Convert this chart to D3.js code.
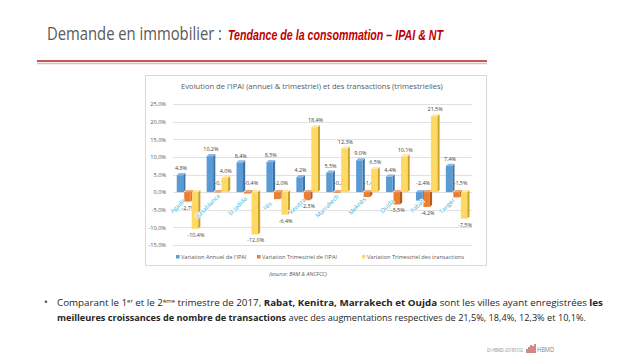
<!DOCTYPE html>
<html><head><meta charset="utf-8">
<script src="https://cdn.jsdelivr.net/npm/d3@7"></script>
<style>
html,body{margin:0;padding:0;background:#fff;}
svg{display:block;}
</style></head>
<body>
<svg id="c" width="638" height="359"></svg>
<script>
const categories = ["Agadir","Casablanca","El Jadida","Fès","Kénitra","Marrakech","Meknès","Oujda","Rabat","Tanger"];
const annualIPAI = [4.8,10.2,8.4,8.5,4.2,5.5,9.0,4.4,-2.4,7.4];
const quarterlyIPAI = [-2.7,-0.1,-0.4,-2.0,-2.3,-0.2,-1.4,-3.5,-4.2,-1.5];
const quarterlyTx = [-10.4,4.0,-12.0,-6.4,18.4,12.3,6.5,10.1,21.5,-7.5];
const seriesNames = ["Variation Annuel de l'IPAI","Variation Trimestriel de l'IPAI","Variation Trimestriel des transactions"];
const yTicks = [-15,-10,-5,0,5,10,15,20,25];

const svg = d3.select("#c");
const fmt = v => d3.format(".1f")(v).replace(".", ",").replace("−","-") + "%";

// Slide title
svg.append("text").attr("x",47).attr("y",40).attr("font-family","Open Sans, sans-serif")
  .attr("font-size",17.5).attr("fill","#595959").attr("textLength",175).attr("lengthAdjust","spacingAndGlyphs")
  .text("Demande en immobilier :");
svg.append("text").attr("x",228).attr("y",40)
  .attr("font-family","Liberation Sans Narrow, Liberation Sans, sans-serif")
  .attr("font-weight","bold").attr("font-style","italic").attr("font-size",15)
  .attr("fill","#C00000").attr("textLength",215).attr("lengthAdjust","spacingAndGlyphs")
  .text("Tendance de la consommation – IPAI & NT");
svg.append("line").attr("x1",37).attr("x2",487).attr("y1",61).attr("y2",61).attr("stroke","#B22222").attr("stroke-width",1.6);
svg.append("line").attr("x1",37).attr("x2",487).attr("y1",63.5).attr("y2",63.5).attr("stroke","#E6B8B8").attr("stroke-width",1.6);

// Chart frame
svg.append("rect").attr("x",145.5).attr("y",75.5).attr("width",341).attr("height",190).attr("fill","#fff").attr("stroke","#D9D9D9");
svg.append("text").attr("x",312).attr("y",89).attr("text-anchor","middle")
  .attr("font-family","Open Sans, sans-serif").attr("font-size",7.6).attr("fill","#595959")
  .text("Evolution de l'IPAI (annuel & trimestriel) et des transactions (trimestrielles)");

const y = d3.scaleLinear().domain([-15,25]).range([245,104]);
const x0 = d3.scaleBand().domain(categories).range([173,472]).paddingInner(0.25).paddingOuter(0.125);
const x1 = d3.scaleBand().domain([0,1,2]).range([0,x0.bandwidth()]);

// grid
svg.append("g").selectAll("line").data(yTicks).join("line")
  .attr("x1",173).attr("x2",472).attr("y1",d=>Math.round(y(d))+0.5).attr("y2",d=>Math.round(y(d))+0.5)
  .attr("stroke","#D9D9D9").attr("stroke-width",0.8);
const yAxis = d3.axisLeft(y).tickValues(yTicks).tickFormat(fmt).tickSize(0).tickPadding(6);
const ya = svg.append("g").attr("transform","translate(172,0)").call(yAxis);
ya.select(".domain").remove();
ya.selectAll("text").attr("font-family","Open Sans, sans-serif").attr("font-size",5.6).attr("fill","#595959");

const colors = [
  {front:"#5B9BD5", side:"#3F74A8", top:"#8DB8E2"},
  {front:"#ED7D31", side:"#B65A1C", top:"#F3A46E"},
  {front:"#FFD966", side:"#C9A227", top:"#FFE8A0"}
];
const series = [annualIPAI, quarterlyIPAI, quarterlyTx];
const d = 2.2;
const w = x1.bandwidth() - 1;

categories.forEach((c,i)=>{
  series.forEach((s,k)=>{
    const v = s[i];
    const xl = x0(c) + x1(k);
    const y0 = y(0), yv = y(v);
    const top = Math.min(y0,yv), bot = Math.max(y0,yv);
    const col = colors[k];
    const gg = svg.append("g");
    gg.append("path").attr("d",`M${xl+w},${top} L${xl+w+d},${top-d} L${xl+w+d},${bot-d} L${xl+w},${bot} Z`).attr("fill",col.side);
    gg.append("path").attr("d",`M${xl},${top} L${xl+d},${top-d} L${xl+w+d},${top-d} L${xl+w},${top} Z`).attr("fill",col.top);
    gg.append("rect").attr("x",xl).attr("y",top).attr("width",w).attr("height",Math.max(bot-top,0.3)).attr("fill",col.front);
    let ly, lx = xl + w/2 + 1;
    if (v >= 0) ly = yv - 5;
    else if ((k===0) || (k===1 && v > -2.1)) { ly = y0 - 7; lx += 3; }
    else ly = yv + 8;
    svg.append("text").attr("x",lx).attr("y",ly).attr("text-anchor","middle")
      .attr("font-family","Open Sans, sans-serif").attr("font-size",5.4).attr("fill","#404040").text(fmt(v));
  });
});

// category labels
svg.selectAll("text.cat").data(categories).join("text")
  .attr("class","cat")
  .attr("transform",c=>`translate(${x0(c)+1},${206}) rotate(-45)`)
  .attr("text-anchor","middle").attr("dy","0.35em")
  .attr("font-family","Open Sans, sans-serif").attr("font-size",6).attr("fill","#33B5E5")
  .attr("stroke","#fff").attr("stroke-width",1.5).attr("paint-order","stroke")
  .text(c=>c);

// legend
const legX = [176,257,362];
seriesNames.forEach((n,k)=>{
  svg.append("rect").attr("x",legX[k]).attr("y",255).attr("width",3.5).attr("height",3.5).attr("fill",colors[k].front);
  svg.append("text").attr("x",legX[k]+5).attr("y",258.5).attr("font-family","Open Sans, sans-serif")
    .attr("font-size",5.6).attr("fill","#595959").text(n);
});

// source
svg.append("text").attr("x",298).attr("y",276).attr("text-anchor","middle").attr("font-family","Open Sans, sans-serif")
  .attr("font-style","italic").attr("font-size",5.4).attr("fill","#595959").text("(source: BAM & ANCFCC)");

// bullet text
svg.append("text").attr("x",44).attr("y",306).attr("font-family","Open Sans, sans-serif").attr("font-size",10).attr("fill","#404040").text("•");
const l1 = svg.append("text").attr("x",57).attr("y",306).attr("font-family","Open Sans, sans-serif").attr("font-size",9.2).attr("fill","#262626")
  .attr("textLength",546).attr("lengthAdjust","spacingAndGlyphs");
l1.append("tspan").text("Comparant le 1");
l1.append("tspan").attr("font-size",5.5).attr("dy",-3.5).text("er");
l1.append("tspan").attr("dy",3.5).text(" et le 2");
l1.append("tspan").attr("font-size",5.5).attr("dy",-3.5).text("ème");
l1.append("tspan").attr("dy",3.5).text(" trimestre de 2017, ");
l1.append("tspan").attr("font-weight","bold").text("Rabat, Kenitra, Marrakech et Oujda");
l1.append("tspan").text(" sont les villes ayant enregistrées ");
l1.append("tspan").attr("font-weight","bold").text("les");
const l2 = svg.append("text").attr("x",57).attr("y",321).attr("font-family","Open Sans, sans-serif").attr("font-size",9.2).attr("fill","#262626")
  .attr("textLength",529).attr("lengthAdjust","spacingAndGlyphs");
l2.append("tspan").attr("font-weight","bold").text("meilleures croissances de nombre de transactions");
l2.append("tspan").text(" avec des augmentations respectives de 21,5%, 18,4%, 12,3% et 10,1%.");

// footer
svg.append("text").attr("x",487).attr("y",352).attr("font-family","Open Sans, sans-serif").attr("font-size",5.2)
  .attr("fill","#8C8C8C").attr("textLength",36).attr("lengthAdjust","spacingAndGlyphs").text("DI-HBMD-20180102");
const lg = svg.append("g");
[[527,4],[529,6],[531,8],[533,7],[535,9]].forEach(a=>{
  lg.append("line").attr("x1",a[0]).attr("x2",a[0]).attr("y1",353-a[1]).attr("y2",353).attr("stroke","#B03A3A").attr("stroke-width",1.2);
});
svg.append("text").attr("x",537).attr("y",352).attr("font-family","Open Sans, sans-serif").attr("font-size",8).attr("fill","#7F7F7F")
  .attr("textLength",17).attr("lengthAdjust","spacingAndGlyphs").text("HBMD");
</script>
</body></html>
